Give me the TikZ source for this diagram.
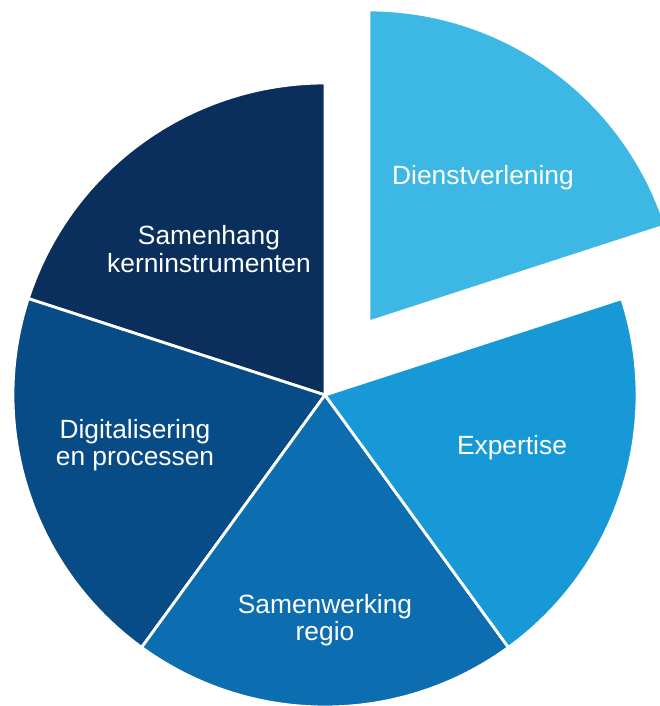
\documentclass[tikz,border=0pt]{standalone}
\usepackage{fontspec}
\setmainfont{Liberation Sans}
\definecolor{samenhang}{HTML}{0A2F5C}
\definecolor{digitaal}{HTML}{074B87}
\definecolor{regio}{HTML}{0C6DB1}
\definecolor{expertise}{HTML}{1799D8}
\definecolor{dienst}{HTML}{3DB7E4}
\begin{document}
\begin{tikzpicture}[x=0.02cm,y=0.02cm,
    slice/.style={draw=white,line width=1.6pt},
    lbl/.style={text=white,align=center,font=\fontsize{15}{15.5}\selectfont}]

        \useasboundingbox (0,0) rectangle (659,706);
        \coordinate (c)  at (325,311);
        \coordinate (cx) at (369,384);

        % pie slices
        \filldraw[slice,fill=samenhang] (c) -- ++(90:312) arc[start angle=90,end angle=162,radius=312] -- cycle;
        \filldraw[slice,fill=digitaal]  (c) -- ++(162:312) arc[start angle=162,end angle=234,radius=312] -- cycle;
        \filldraw[slice,fill=regio]     (c) -- ++(234:312) arc[start angle=234,end angle=306,radius=312] -- cycle;
        \filldraw[slice,fill=expertise] (c) -- ++(306:312) arc[start angle=306,end angle=378,radius=312] -- cycle;
        \filldraw[slice,fill=dienst]    (cx) -- ++(18:312) arc[start angle=18,end angle=90,radius=312] -- cycle;

        % labels
        \node[lbl] (n1) at (483,528) {Dienstverlening};
        \node[lbl] (n2) at (209,457) {Samenhang\\kerninstrumenten};
        \node[lbl] (n3) at (135,261) {Digitalisering\\en processen};
        \node[lbl] (n4) at (512,258) {Expertise};
        \node[lbl] (n5) at (325,86)  {Samenwerking\\regio};

      \end{tikzpicture}
\end{document}
